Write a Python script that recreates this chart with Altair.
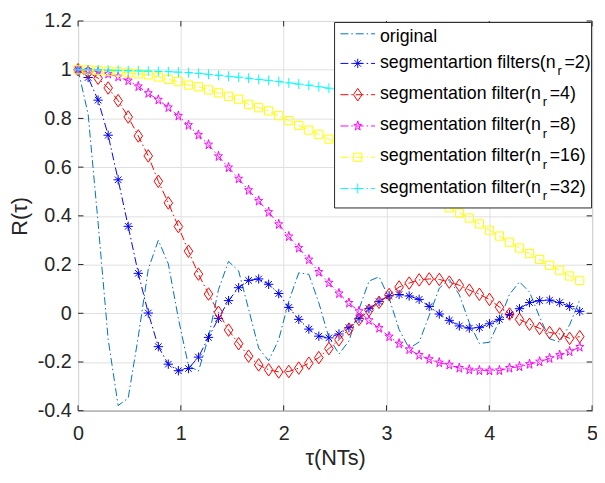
import altair as alt
import pandas as pd

# ---------------- data ----------------
TAU = [0.000, 0.098, 0.195, 0.293, 0.390, 0.488, 0.586, 0.683, 0.781, 0.878,
       0.976, 1.074, 1.171, 1.269, 1.366, 1.464, 1.562, 1.659, 1.757, 1.854,
       1.952, 2.050, 2.147, 2.245, 2.342, 2.440, 2.538, 2.635, 2.733, 2.830,
       2.928, 3.026, 3.123, 3.221, 3.318, 3.416, 3.514, 3.611, 3.709, 3.806,
       3.904, 4.002, 4.099, 4.197, 4.294, 4.392, 4.490, 4.587, 4.685, 4.782,
       4.880]

ORIGINAL = [1.000, 0.818, 0.371, -0.107, -0.379, -0.348, -0.096, 0.181, 0.300, 0.203,
            -0.022, -0.215, -0.238, -0.100, 0.097, 0.213, 0.174, 0.017, -0.143, -0.195,
            -0.108, 0.050, 0.166, 0.160, 0.043, -0.100, -0.167, -0.114, 0.017, 0.132,
            0.150, 0.062, -0.067, -0.144, -0.118, -0.009, 0.103, 0.139, 0.076, -0.039,
            -0.124, -0.119, -0.030, 0.078, 0.129, 0.087, -0.016, -0.105, -0.118, -0.047,
            0.055]

NR2 = [1.000, 0.968, 0.875, 0.731, 0.548, 0.357, 0.164, 0.001, -0.137, -0.209,
       -0.236, -0.227, -0.180, -0.099, -0.021, 0.052, 0.105, 0.135, 0.141, 0.119,
       0.081, 0.024, -0.025, -0.065, -0.094, -0.101, -0.085, -0.059, -0.021, 0.019,
       0.048, 0.072, 0.077, 0.071, 0.057, 0.028, -0.003, -0.029, -0.052, -0.061,
       -0.059, -0.043, -0.025, -0.005, 0.019, 0.044, 0.052, 0.054, 0.044, 0.028,
       0.008]

NR4 = [1.000, 0.990, 0.965, 0.925, 0.873, 0.806, 0.728, 0.646, 0.542, 0.453,
       0.356, 0.255, 0.161, 0.079, 0.004, -0.069, -0.125, -0.176, -0.212, -0.232,
       -0.241, -0.239, -0.225, -0.205, -0.182, -0.145, -0.109, -0.065, -0.025, 0.012,
       0.045, 0.077, 0.108, 0.124, 0.137, 0.141, 0.139, 0.128, 0.115, 0.095,
       0.078, 0.057, 0.025, -0.003, -0.025, -0.045, -0.062, -0.079, -0.085, -0.103,
       -0.096]

NR8 = [1.000, 0.998, 0.992, 0.983, 0.971, 0.955, 0.931, 0.903, 0.876, 0.845,
       0.810, 0.772, 0.732, 0.692, 0.644, 0.598, 0.552, 0.505, 0.461, 0.415,
       0.365, 0.315, 0.268, 0.220, 0.169, 0.125, 0.081, 0.042, 0.008, -0.029,
       -0.061, -0.096, -0.125, -0.149, -0.172, -0.189, -0.203, -0.212, -0.225, -0.232,
       -0.235, -0.236, -0.235, -0.225, -0.219, -0.209, -0.199, -0.185, -0.172, -0.157,
       -0.139]

NR16 = [1.000, 0.999, 0.997, 0.994, 0.991, 0.987, 0.983, 0.979, 0.970, 0.960,
        0.951, 0.937, 0.930, 0.917, 0.905, 0.891, 0.879, 0.858, 0.844, 0.831,
        0.811, 0.791, 0.771, 0.752, 0.735, 0.715, 0.694, 0.672, 0.650, 0.627,
        0.604, 0.580, 0.557, 0.533, 0.508, 0.483, 0.458, 0.433, 0.412, 0.391,
        0.367, 0.341, 0.317, 0.292, 0.268, 0.245, 0.221, 0.197, 0.177, 0.153,
        0.135]

NR32 = [1.000, 1.000, 0.999, 0.998, 0.997, 0.996, 0.995, 0.994, 0.993, 0.992,
        0.990, 0.988, 0.985, 0.981, 0.977, 0.973, 0.969, 0.965, 0.960, 0.956,
        0.951, 0.946, 0.941, 0.936, 0.930, 0.924, 0.918, 0.911, 0.904, 0.897,
        0.889, 0.881, 0.873, 0.864, 0.855, 0.846, 0.836, 0.826, 0.816, 0.805,
        0.794, 0.783, 0.771, 0.759, 0.747, 0.734, 0.721, 0.708, 0.694, 0.680,
        0.666]

X_TICKS = [0, 1, 2, 3, 4, 5]
Y_TICKS = [-0.4, -0.2, 0, 0.2, 0.4, 0.6, 0.8, 1.0, 1.2]

LEGEND_MAIN = ["original",
               "segmentartion filters(n",
               "segmentation filter(n",
               "segmentation filter(n",
               "segmentation filter(n",
               "segmentation filter(n"]
LEGEND_SUB = ["", "r", "r", "r", "r", "r"]
LEGEND_REST = ["", "=2)", "=4)", "=8)", "=16)", "=32)"]

X_TITLE = "τ(NTs)"
Y_TITLE = "R(τ)"

# ---------------- styling ----------------
W, H = 521, 395
FONT = "Liberation Sans"
INK = "#262626"
DASH = [8, 3, 1.5, 3]

ASTER = "M-1,0H1M0,-1V1M-0.7,-0.7L0.7,0.7M-0.7,0.7L0.7,-0.7"
DIAMOND = "M0,-1L0.685,0L0,1L-0.685,0Z"
STAR = ("M0,-1L0.19,-0.309L0.78,-0.309L0.3,0.118L0.482,0.809L0,0.382"
        "L-0.482,0.809L-0.3,0.118L-0.78,-0.309L-0.19,-0.309Z")
PLUS = "M-0.8,0H0.8M0,-1V1"

SERIES = [
    (ORIGINAL, "#0072BD", None, 0),
    (NR2, "#0000FF", ASTER, 90),
    (NR4, "#FF0000", DIAMOND, 161),
    (NR8, "#FF00FF", STAR, 106),
    (NR16, "#FFFF00", "square", 69),
    (NR32, "#00FFFF", PLUS, 100),
]

# Arial / Liberation Sans advance widths (per 1000 em)
ARIAL = {"s": 500, "e": 556, "g": 556, "m": 833, "n": 556, "t": 278, "a": 556,
         "r": 333, "i": 222, "o": 556, " ": 278, "f": 278, "l": 222, "(": 333}


def text_width(s, size):
    return sum(ARIAL.get(c, 556) for c in s) * size / 1000.0


x_enc = alt.X(
    "tau:Q",
    scale=alt.Scale(domain=[0, 5], nice=False, zero=False),
    axis=alt.Axis(values=X_TICKS, title=X_TITLE,
                  labelExpr="format(datum.value, 'd')",
                  labelPadding=13, labelFlush=False, labelOverlap=False,
                  titleX=W / 2, titleY=48, titleAlign="center",
                  titleBaseline="middle"),
)
y_enc = alt.Y(
    "value:Q",
    scale=alt.Scale(domain=[-0.4, 1.2], nice=False, zero=False),
    axis=alt.Axis(values=Y_TICKS, title=Y_TITLE,
                  labelExpr="datum.value < 0 ? '-' + format(-datum.value, '.1~f') : format(datum.value, '.1~f')",
                  labelPadding=7, labelFlush=False, labelOverlap=False,
                  titleX=-59, titleY=H / 2, titleAngle=270,
                  titleAlign="center", titleBaseline="middle"),
)

layers = []

# inward tick marks on all four sides (MATLAB style)
xt = pd.DataFrame({"tau": X_TICKS})
yt = pd.DataFrame({"value": Y_TICKS})
layers.append(alt.Chart(xt).mark_rule(color=INK, strokeWidth=1).encode(
    x=x_enc, y=alt.value(H), y2=alt.value(H - 5.5)))
layers.append(alt.Chart(xt).mark_rule(color=INK, strokeWidth=1).encode(
    x=x_enc, y=alt.value(0), y2=alt.value(5.5)))
layers.append(alt.Chart(yt).mark_rule(color=INK, strokeWidth=1).encode(
    y=y_enc, x=alt.value(0), x2=alt.value(5.5)))
layers.append(alt.Chart(yt).mark_rule(color=INK, strokeWidth=1).encode(
    y=y_enc, x=alt.value(W), x2=alt.value(W - 5.5)))

# data series
for vals, col, shape, size in SERIES:
    df = pd.DataFrame({"tau": TAU, "value": vals})
    layers.append(alt.Chart(df).mark_line(color=col, strokeWidth=1, strokeDash=DASH)
                  .encode(x=x_enc, y=y_enc))
    if shape:
        layers.append(alt.Chart(df).mark_point(shape=shape, size=size, filled=False,
                                               color=col, strokeWidth=1, opacity=1)
                      .encode(x=x_enc, y=y_enc))

# legend box (inside the axes, top right)
one = pd.DataFrame({"k": [0]})
layers.append(alt.Chart(one).mark_rect(fill="white", stroke=INK, strokeWidth=1).encode(
    x=alt.value(260), x2=alt.value(520.5), y=alt.value(1.5), y2=alt.value(189.5)))

LEG_Y = [13, 43, 74.7, 106.4, 138.1, 169.8]
TX = 306
for i, (vals, col, shape, size) in enumerate(SERIES):
    ly = LEG_Y[i]
    layers.append(alt.Chart(one).mark_rule(color=col, strokeWidth=1, strokeDash=DASH).encode(
        x=alt.value(266), x2=alt.value(301), y=alt.value(ly)))
    if shape:
        layers.append(alt.Chart(one).mark_point(shape=shape, size=size, filled=False,
                                                color=col, strokeWidth=1, opacity=1).encode(
            x=alt.value(283.5), y=alt.value(ly)))
    base = ly + (8.5 if i == 0 else 4.3)
    layers.append(alt.Chart(one).mark_text(align="left", baseline="alphabetic", font=FONT,
                                           fontSize=18, color="black").encode(
        x=alt.value(TX), y=alt.value(base), text=alt.value(LEGEND_MAIN[i])))
    if LEGEND_SUB[i]:
        wm = text_width(LEGEND_MAIN[i], 18)
        layers.append(alt.Chart(one).mark_text(align="left", baseline="alphabetic", font=FONT,
                                               fontSize=13, color="black").encode(
            x=alt.value(TX + wm + 2), y=alt.value(base + 7.6), text=alt.value(LEGEND_SUB[i])))
        layers.append(alt.Chart(one).mark_text(align="left", baseline="alphabetic", font=FONT,
                                               fontSize=18, color="black").encode(
            x=alt.value(TX + wm + 9), y=alt.value(base), text=alt.value(LEGEND_REST[i])))

chart = (
    alt.layer(*layers)
    .properties(width=W, height=H,
                padding={"left": 71, "top": 10, "right": 5, "bottom": 62},
                autosize=alt.AutoSizeParams(type="none"))
    .configure_view(stroke=INK, strokeWidth=1)
    .configure_axis(labelFont=FONT, labelFontSize=20, labelColor=INK,
                    titleFont=FONT, titleFontSize=22, titleColor=INK,
                    titleFontWeight="normal", gridColor="#dfdfdf", gridWidth=1,
                    domain=False, ticks=False, tickSize=0)
)

chart.save("out.html", embed_options={"renderer": "svg", "actions": False})
